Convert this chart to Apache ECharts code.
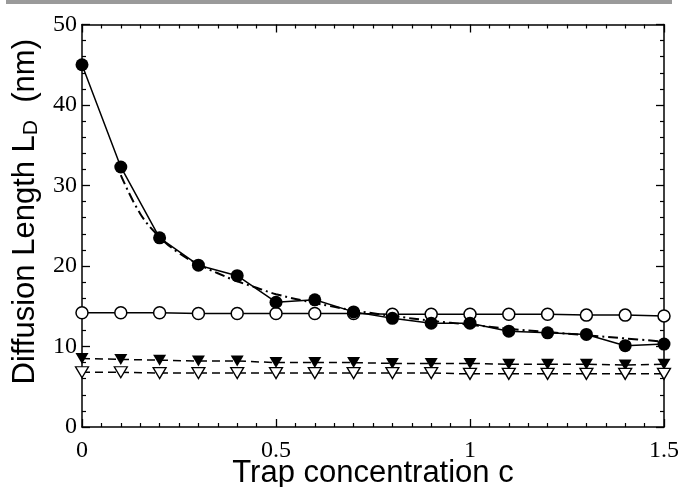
<!DOCTYPE html>
<html>
<head>
<meta charset="utf-8">
<script src="https://cdn.jsdelivr.net/npm/echarts@6/dist/echarts.min.js"></script>
<style>
html,body{margin:0;padding:0;background:#fff;}
#chart{width:678px;height:487px;}
</style>
</head>
<body>
<div id="chart"></div>
<script>
// Trap concentration values (x)
const conc = [0, 0.1, 0.2, 0.3, 0.4, 0.5, 0.6, 0.7, 0.8, 0.9, 1.0, 1.1, 1.2, 1.3, 1.4, 1.5];
// Filled circles (solid line)
const filledCircles = [45.0, 32.3, 23.5, 20.1, 18.8, 15.5, 15.8, 14.3, 13.5, 12.9, 12.9, 11.9, 11.7, 11.5, 10.1, 10.3];
// Open circles (solid line)
const openCircles = [14.2, 14.2, 14.2, 14.1, 14.1, 14.1, 14.1, 14.1, 14.0, 14.0, 14.0, 14.0, 14.0, 13.9, 13.9, 13.8];
// Filled triangles (dashed)
const filledTriangles = [8.5, 8.4, 8.3, 8.2, 8.2, 8.0, 8.0, 8.0, 7.9, 7.9, 7.9, 7.8, 7.8, 7.8, 7.7, 7.8];
// Open triangles (dashed)
const openTriangles = [6.8, 6.8, 6.7, 6.7, 6.7, 6.7, 6.7, 6.7, 6.7, 6.7, 6.6, 6.6, 6.6, 6.6, 6.6, 6.6];
// Dash-dot fit curve
const fitX = [0.1, 0.15, 0.2, 0.25, 0.3, 0.35, 0.4, 0.45, 0.5, 0.6, 0.7, 0.8, 0.9, 1.0, 1.1, 1.2, 1.3, 1.4, 1.5];
const fitY = [31.3, 26.5, 23.6, 21.6, 20.2, 19.1, 18.1, 17.3, 16.5, 15.4, 14.5, 13.8, 13.2, 12.7, 12.2, 11.8, 11.4, 11.0, 10.6];

const xTicks = {min: 0, max: 1.5, interval: 0.5};
const yTicks = {min: 0, max: 50, interval: 10};

function pairs(xs, ys) { return xs.map((x, i) => [x, ys[i]]); }

const chart = echarts.init(document.getElementById('chart'), null, {renderer: 'canvas'});
const axisLine = {show: true, onZero: false, lineStyle: {color: '#000', width: 1.5}};
const tick = {show: true, inside: true, length: 8, lineStyle: {color: '#000', width: 1.3}};
const minorTickX = {show: true, splitNumber: 10, length: 4, lineStyle: {color: '#000', width: 1.2}};
const minorTickY = {show: true, splitNumber: 5, length: 4, lineStyle: {color: '#000', width: 1.2}};
const serif = 'Liberation Serif';
const sans = 'Liberation Sans';

chart.setOption({
  animation: false,
  backgroundColor: '#fff',
  graphic: [{type: 'rect', shape: {x: 6, y: 0, width: 666, height: 4}, style: {fill: '#9a9a9a'}}],
  grid: {left: 82, right: 14, top: 24.5, bottom: 60, containLabel: false, outerBoundsMode: 'none'},
  xAxis: [{
    type: 'value', min: xTicks.min, max: xTicks.max, interval: xTicks.interval,
    position: 'bottom',
    axisLine: axisLine, axisTick: tick, minorTick: minorTickX,
    splitLine: {show: false},
    axisLabel: {color: '#000', fontFamily: serif, fontSize: 24, margin: 12},
    name: 'Trap concentration c', nameLocation: 'middle', nameGap: 31, nameMoveOverlap: false,
    nameTextStyle: {color: '#000', fontFamily: sans, fontSize: 31}
  }, {
    type: 'value', min: xTicks.min, max: xTicks.max, interval: xTicks.interval,
    position: 'top',
    axisLine: axisLine, axisTick: tick, minorTick: minorTickX,
    splitLine: {show: false}, axisLabel: {show: false}
  }],
  yAxis: [{
    type: 'value', min: yTicks.min, max: yTicks.max, interval: yTicks.interval,
    position: 'left',
    axisLine: axisLine, axisTick: tick, minorTick: minorTickY,
    splitLine: {show: false},
    axisLabel: {color: '#000', fontFamily: serif, fontSize: 24, margin: 5},
    name: 'Diffusion Length L{sub|D}  (nm)', nameLocation: 'middle', nameGap: 40, nameMoveOverlap: false,
    nameTextStyle: {color: '#000', fontFamily: sans, fontSize: 31, padding: [0, 0, 0, 28],
      rich: {sub: {fontFamily: sans, fontSize: 21, color: '#000', verticalAlign: 'bottom', padding: [13, 0, 0, 0]}}}
  }, {
    type: 'value', min: yTicks.min, max: yTicks.max, interval: yTicks.interval,
    position: 'right',
    axisLine: axisLine, axisTick: tick, minorTick: minorTickY,
    splitLine: {show: false}, axisLabel: {show: false}
  }],
  series: [
    {
      type: 'line', data: pairs(fitX, fitY), smooth: 0.4, symbol: 'none',
      lineStyle: {color: '#000', width: 2, type: [10, 4, 2, 4]}, z: 1
    },
    {
      type: 'line', data: pairs(conc, filledCircles), symbol: 'circle', symbolSize: 13,
      itemStyle: {color: '#000'}, lineStyle: {color: '#000', width: 1.5}, z: 3
    },
    {
      type: 'line', data: pairs(conc, openCircles), symbol: 'circle', symbolSize: 12,
      itemStyle: {color: '#fff', borderColor: '#000', borderWidth: 1.5},
      lineStyle: {color: '#000', width: 1.5}, z: 2
    },
    {
      type: 'line', data: pairs(conc, filledTriangles), symbol: 'triangle', symbolRotate: 180, symbolSize: [13, 11],
      itemStyle: {color: '#000'}, lineStyle: {color: '#000', width: 1.5, type: [8, 5]}, z: 2
    },
    {
      type: 'line', data: pairs(conc, openTriangles), symbol: 'triangle', symbolRotate: 180, symbolSize: [13, 11],
      itemStyle: {color: '#fff', borderColor: '#000', borderWidth: 1.3},
      lineStyle: {color: '#000', width: 1.5, type: [8, 5]}, z: 2
    }
  ]
});
</script>
</body>
</html>
